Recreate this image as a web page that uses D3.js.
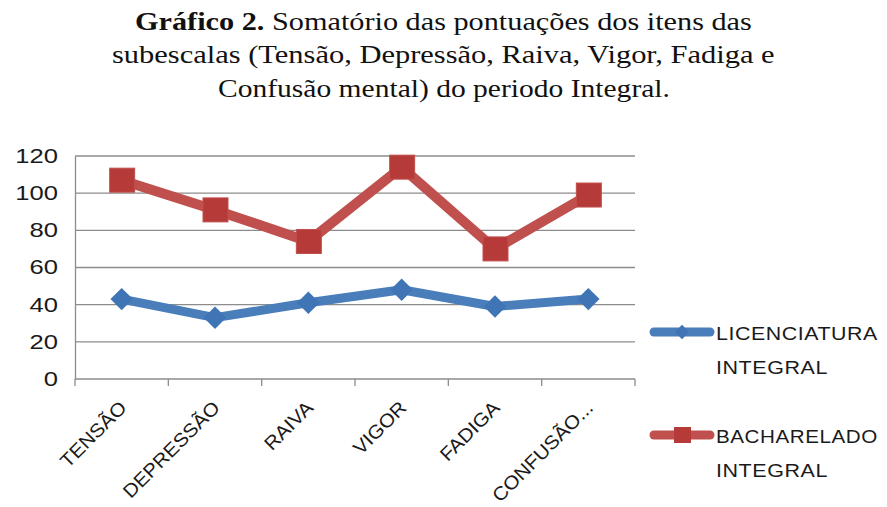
<!DOCTYPE html>
<html>
<head>
<meta charset="utf-8">
<script src="https://cdn.jsdelivr.net/npm/d3@7"></script>
<style>
  body { margin: 0; background: #fff; }
</style>
</head>
<body>
<div class="chart"></div>
<script>
// line chart - somatorio das subescalas, periodo integral
const categories = ['TENSÃO', 'DEPRESSÃO', 'RAIVA', 'VIGOR', 'FADIGA', 'CONFUSÃO...']
const licenciatura = [43, 33, 41, 48, 39, 43]
const bacharelado = [107, 91, 74, 114, 70, 99]
const yTicks = [0, 20, 40, 60, 80, 100, 120]
const seriesNames = [['LICENCIATURA', 'INTEGRAL'], ['BACHARELADO', 'INTEGRAL']]

const W = 887
const H = 507
const margin = ({top: 156, right: 252, bottom: 128, left: 75})
const width = W - margin.left - margin.right
const height = H - margin.top - margin.bottom

const svg = d3.select('.chart')
	.append('svg')
	.attr('width', W)
	.attr('height', H)

// squeeze / stretch a text horizontally so it spans a given width
function fitText(textSel, x, y, target, anchor) {
	const w = textSel.node().getBBox().width
	const s = target / w
	const x0 = anchor === 'middle' ? x - target / 2 : x
	textSel.attr('transform', `translate(${x0},${y}) scale(${s},1)`)
}

// title
const title = svg.append('g')
	.attr('font-family', 'Liberation Serif, Times New Roman, serif')
	.attr('font-size', '25px')
	.attr('fill', '#111')

const t1 = title.append('text')
t1.append('tspan').attr('font-weight', 'bold').text('Gráfico 2.')
t1.append('tspan').text(' Somatório das pontuações dos itens das')
fitText(t1, 443.5, 30, 617, 'middle')
const t2 = title.append('text')
	.text('subescalas (Tensão, Depressão, Raiva, Vigor, Fadiga e')
fitText(t2, 443.5, 63, 663, 'middle')
const t3 = title.append('text')
	.text('Confusão mental) do periodo Integral.')
fitText(t3, 444, 97, 452, 'middle')

const g = svg.append('g')
	.attr('transform', `translate(${margin.left},${margin.top})`)

const xScale = d3.scaleBand()
	.domain(categories)
	.range([0, width])

const yScale = d3.scaleLinear()
	.domain([0, 120])
	.range([height, 0])

// gridlines
g.append('g').selectAll('line')
	.data(yTicks.filter(d => d > 0))
	.enter()
	.append('line')
	.attr('x1', 0)
	.attr('x2', width)
	.attr('y1', d => yScale(d))
	.attr('y2', d => yScale(d))
	.attr('stroke', '#8c8c8c')
	.attr('stroke-width', 1.3)

// y axis
const yAxis = d3.axisLeft(yScale)
	.tickValues(yTicks)
	.tickSize(0)
	.tickPadding(0)

g.append('g')
	.attr('class', 'axis y-axis')
	.call(yAxis)
	.call(a => a.select('.domain').attr('stroke', '#8c8c8c').attr('stroke-width', 1.3))
	.call(a => a.selectAll('text')
		.attr('x', 0)
		.attr('transform', 'translate(-17,0) scale(1.28,1)')
		.attr('font-family', 'Liberation Sans, Arial, sans-serif')
		.attr('font-size', '20px')
		.attr('fill', '#1a1a1a'))

// x axis: tick marks at band boundaries
const xAxisG = g.append('g')
	.attr('transform', `translate(0,${height})`)

xAxisG.append('line')
	.attr('x1', 0).attr('x2', width)
	.attr('stroke', '#8c8c8c').attr('stroke-width', 1.3)

xAxisG.selectAll('.tk')
	.data(categories.concat(['end']))
	.enter()
	.append('line')
	.attr('class', 'tk')
	.attr('x1', (d, i) => i < categories.length ? xScale(d) : width)
	.attr('x2', (d, i) => i < categories.length ? xScale(d) : width)
	.attr('y1', 0)
	.attr('y2', 7)
	.attr('stroke', '#8c8c8c').attr('stroke-width', 1.3)

xAxisG.selectAll('.lbl')
	.data(categories)
	.enter()
	.append('text')
	.attr('class', 'lbl')
	.attr('transform', d => `translate(${xScale(d) + xScale.bandwidth() / 2 + 6},${30}) rotate(-45) scale(1.08,1)`)
	.attr('text-anchor', 'end')
	.attr('font-family', 'Liberation Sans, Arial, sans-serif')
	.attr('font-size', '19px')
	.attr('fill', '#1a1a1a')
	.text(d => d)

const cx = d => xScale(d) + xScale.bandwidth() / 2

const line = d3.line()
	.x((d, i) => cx(categories[i]))
	.y(d => yScale(d))

// red series
g.append('path')
	.datum(bacharelado)
	.attr('fill', 'none')
	.attr('stroke', '#c0504d')
	.attr('stroke-width', 10)
	.attr('stroke-linejoin', 'round')
	.attr('d', line)

g.append('g').selectAll('rect')
	.data(bacharelado)
	.enter()
	.append('rect')
	.attr('x', (d, i) => cx(categories[i]) - 12)
	.attr('y', d => yScale(d) - 12)
	.attr('width', 25)
	.attr('height', 24)
	.attr('fill', '#b63a37')
	.attr('stroke', '#c0504d')
	.attr('stroke-width', 1)

// blue series
g.append('path')
	.datum(licenciatura)
	.attr('fill', 'none')
	.attr('stroke', '#4a7ebb')
	.attr('stroke-width', 9)
	.attr('stroke-linejoin', 'round')
	.attr('d', line)

const diamond = d3.symbol().type(d3.symbolDiamond2).size(320)
g.append('g').selectAll('path')
	.data(licenciatura)
	.enter()
	.append('path')
	.attr('transform', (d, i) => `translate(${cx(categories[i])},${yScale(d)})`)
	.attr('d', diamond)
	.attr('fill', '#3f74b5')

// legend
const legendColors = ['#4a7ebb', '#c0504d']
const legendWidths = [[162, 112], [162, 112]]
const legend = svg.append('g')
const items = legend.selectAll('g')
	.data(seriesNames)
	.enter()
	.append('g')
	.attr('transform', (d, i) => `translate(0,${332 + i * 103})`)

items.append('line')
	.attr('x1', 654).attr('x2', 710)
	.attr('stroke', (d, i) => legendColors[i])
	.attr('stroke-width', 9)
	.attr('stroke-linecap', 'round')

items.filter((d, i) => i === 0).append('path')
	.attr('transform', 'translate(682,0)')
	.attr('d', d3.symbol().type(d3.symbolDiamond2).size(130))
	.attr('fill', '#3f74b5')

items.filter((d, i) => i === 1).append('rect')
	.attr('x', 674).attr('y', -8).attr('width', 17).attr('height', 16)
	.attr('fill', '#b63a37')

items.each(function (names, i) {
	names.forEach((name, j) => {
		const t = d3.select(this).append('text')
			.attr('font-family', 'Liberation Sans, Arial, sans-serif')
			.attr('font-size', '19px')
			.attr('letter-spacing', '0.5px')
			.attr('fill', '#1a1a1a')
			.text(name)
		fitText(t, 716, 8 + j * 34, legendWidths[i][j], 'start')
	})
})
</script>
</body>
</html>
